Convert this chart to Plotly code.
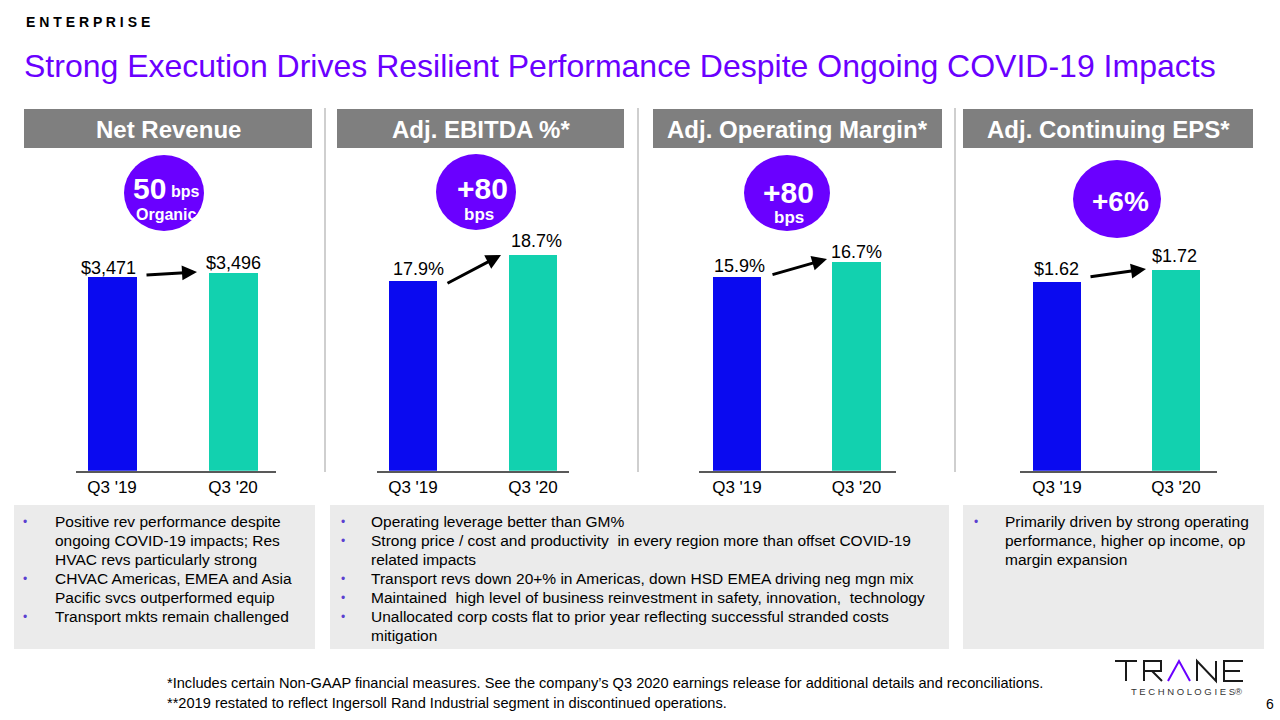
import plotly.graph_objects as go

W, H = 1280, 720
PURPLE = "#6A00FF"
BLUE = "#0A0AF0"
TEAL = "#12D1AF"
GRAY_HDR = "#7F7F7F"
BOX = "#EBEBEB"
FONT = "Liberation Sans, Arial, sans-serif"

# ---------------- data ----------------
categories = ["Q3 '19", "Q3 '20"]
net_revenue = [3471, 3496]
adj_ebitda_pct = [17.9, 18.7]
adj_op_margin_pct = [15.9, 16.7]
adj_eps = [1.62, 1.72]
net_revenue_labels = ["$3,471", "$3,496"]
adj_ebitda_labels = ["17.9%", "18.7%"]
adj_op_margin_labels = ["15.9%", "16.7%"]
adj_eps_labels = ["$1.62", "$1.72"]
panel_titles = ["Net Revenue", "Adj. EBITDA %*", "Adj. Operating Margin*", "Adj. Continuing EPS*"]

bullets_box1 = [
    (True, "Positive rev performance despite"),
    (False, "ongoing COVID-19 impacts; Res"),
    (False, "HVAC revs particularly strong"),
    (True, "CHVAC Americas, EMEA and Asia"),
    (False, "Pacific svcs outperformed equip"),
    (True, "Transport mkts remain challenged"),
]
bullets_box2 = [
    (True, "Operating leverage better than GM%"),
    (True, "Strong price / cost and productivity  in every region more than offset COVID-19"),
    (False, "related impacts"),
    (True, "Transport revs down 20+% in Americas, down HSD EMEA driving neg mgn mix"),
    (True, "Maintained  high level of business reinvestment in safety, innovation,  technology"),
    (True, "Unallocated corp costs flat to prior year reflecting successful stranded costs"),
    (False, "mitigation"),
]
bullets_box3 = [
    (True, "Primarily driven by strong operating"),
    (False, "performance, higher op income, op"),
    (False, "margin expansion"),
]
footnotes = [
    "*Includes certain Non-GAAP financial measures. See the company\u2019s Q3 2020 earnings release for additional details and reconciliations.",
    "**2019 restated to reflect Ingersoll Rand Industrial segment in discontinued operations.",
]


def px(x):
    return x / W


def py(y):
    return 1 - y / H


# ---------------- layout config ----------------
BASE_Y, TOP_Y = 470.7, 150
panels = [
    dict(vals=net_revenue, labels=net_revenue_labels, ax=(76, 276), xr=(-0.2975, 1.355), yr=(2262, 4266),
         width=0.405, shifts=[(-4, 9), (0, 10)], arrow=((145, 275), (197, 272)),
         header=(24, 312), circle=(164, 193, 40, 38)),
    dict(vals=adj_ebitda_pct, labels=adj_ebitda_labels, ax=(377, 569), xr=(-0.3, 1.3), yr=(11.98, 21.97),
         width=0.4, shifts=[(5, 12), (3, 14)], arrow=((446, 284), (501, 255)),
         header=(337, 624), circle=(476, 192, 40, 38)),
    dict(vals=adj_op_margin_pct, labels=adj_op_margin_labels, ax=(699, 896), xr=(-0.318, 1.331), yr=(5.57, 22.67),
         width=0.405, shifts=[(3, 11), (0, 10)], arrow=((771, 275), (827, 259)),
         header=(653, 942), circle=(787, 193, 43, 38)),
    dict(vals=adj_eps, labels=adj_eps_labels, ax=(1020, 1217), xr=(-0.311, 1.345), yr=(0.005, 2.746),
         width=0.405, shifts=[(-1, 13), (-1, 14)], arrow=((1089, 277), (1146, 269)),
         header=(963, 1253), circle=(1117, 199, 44, 39)),
]

fig = go.Figure()
shapes = []
annotations = []
layout_axes = {}

for i, p in enumerate(panels):
    n = "" if i == 0 else str(i + 1)
    xa, ya = "x" + n, "y" + n
    fig.add_trace(go.Bar(
        x=categories, y=p["vals"], width=p["width"],
        marker=dict(color=[BLUE, TEAL], line=dict(width=0)),
        xaxis=xa, yaxis=ya, hoverinfo="skip",
    ))
    layout_axes["xaxis" + n] = dict(
        domain=[px(p["ax"][0]), px(p["ax"][1])], range=list(p["xr"]), anchor=ya,
        showline=True, linecolor="#595959", linewidth=2, ticks="", showgrid=False,
        tickfont=dict(family=FONT, size=17, color="#000000"), fixedrange=True,
    )
    layout_axes["yaxis" + n] = dict(
        domain=[py(BASE_Y), py(TOP_Y)], range=list(p["yr"]), anchor=xa,
        visible=False, showgrid=False, fixedrange=True,
    )
    # value labels
    for cat, v, lab, (dx, dy) in zip(categories, p["vals"], p["labels"], p["shifts"]):
        annotations.append(dict(
            x=cat, y=v, xref=xa, yref=ya, text=lab, showarrow=False,
            xanchor="center", yanchor="middle", xshift=dx, yshift=dy,
            font=dict(family=FONT, size=18, color="#000000"),
        ))
    # arrow
    (tx, ty), (hx, hy) = p["arrow"]
    annotations.append(dict(
        x=px(hx), y=py(hy), xref="paper", yref="paper", ax=tx - hx, ay=ty - hy,
        axref="pixel", ayref="pixel", text="", showarrow=True,
        arrowhead=2, arrowsize=1, arrowwidth=3, arrowcolor="#000000", standoff=0,
    ))
    # header box
    hx0, hx1 = p["header"]
    shapes.append(dict(type="rect", xref="paper", yref="paper", x0=px(hx0), x1=px(hx1),
                       y0=py(148), y1=py(109), fillcolor=GRAY_HDR, line=dict(width=0), layer="below"))
    annotations.append(dict(
        x=px((hx0 + hx1) / 2), y=py(129), xref="paper", yref="paper", text="<b>%s</b>" % panel_titles[i],
        showarrow=False, xanchor="center", yanchor="middle",
        font=dict(family=FONT, size=24, color="#FFFFFF"),
    ))
    # circle badge
    cx, cy, rx, ry = p["circle"]
    shapes.append(dict(type="circle", xref="paper", yref="paper", x0=px(cx - rx), x1=px(cx + rx),
                       y0=py(cy + ry), y1=py(cy - ry), fillcolor=PURPLE, line=dict(width=0), layer="below"))


def txt(x, y, s, size, color="#000000", anchor="left", bold=False, family=FONT):
    annotations.append(dict(
        x=px(x), y=py(y), xref="paper", yref="paper", text=("<b>%s</b>" % s) if bold else s,
        showarrow=False, xanchor=anchor, yanchor="middle",
        font=dict(family=family, size=size, color=color),
    ))


# badge texts
txt(149, 189, "50", 30, "#FFFFFF", "center", True)
txt(185, 192, "bps", 16, "#FFFFFF", "center", True)
txt(166, 214, "Organic", 16, "#FFFFFF", "center", True)
txt(482, 189, "+80", 30, "#FFFFFF", "center", True)
txt(479, 214, "bps", 17, "#FFFFFF", "center", True)
txt(788, 193, "+80", 30, "#FFFFFF", "center", True)
txt(789, 217, "bps", 17, "#FFFFFF", "center", True)
txt(1120, 201, "+6%", 28, "#FFFFFF", "center", True)

# separators
for sx in (325, 638, 955):
    shapes.append(dict(type="line", xref="paper", yref="paper", x0=px(sx), x1=px(sx),
                       y0=py(472), y1=py(108), line=dict(color="#CFCFCF", width=2), layer="below"))

# text boxes
for bx0, bx1 in ((14, 315), (330, 949), (963, 1264)):
    shapes.append(dict(type="rect", xref="paper", yref="paper", x0=px(bx0), x1=px(bx1),
                       y0=py(649), y1=py(505), fillcolor=BOX, line=dict(width=0), layer="below"))

for bullets, bxl, tx0 in ((bullets_box1, 25, 53), (bullets_box2, 343, 369), (bullets_box3, 976, 1003)):
    for j, (has_bullet, line) in enumerate(bullets):
        yy = 521.5 + j * 19.05
        if has_bullet:
            txt(bxl, yy, "\u2022", 12, "#5B3FD0", "center")
        txt(tx0, yy, line, 15.5, "#000000", "left")

# title
txt(24, 22, "E N T E R P R I S E", 14, "#000000", "left", True)
txt(22, 66, "Strong Execution Drives Resilient Performance Despite Ongoing COVID-19 Impacts", 32, PURPLE, "left")

# footnotes
txt(165, 683, footnotes[0], 14.6, "#000000", "left")
txt(165, 703, footnotes[1], 14.6, "#000000", "left")
txt(1270, 704, "6", 14, "#000000", "center")

# logo (drawn with strokes)
LOGO = "#1A1A1A"
logo_paths = [
    "M1115,661 L1137,661 M1126,661 L1126,681",
    "M1144,681 L1144,661 L1161,661 L1161,671 L1144,671 M1152,671 L1162,681",
    "M1168,681 L1179,661 L1190,681",
    "M1197,681 L1197,661 L1216,681 L1216,661",
    "M1243,661 L1224,661 L1224,681 L1243,681 M1224,671 L1240,671",
]


def to_paper_path(d):
    out = []
    for tok in d.split():
        cmd = tok[0]
        xs, ys = tok[1:].split(",")
        out.append("%s%.6f,%.6f" % (cmd, px(float(xs)), py(float(ys))))
    return " ".join(out)


for k, d in enumerate(logo_paths):
    shapes.append(dict(type="path", xref="paper", yref="paper", path=to_paper_path(d),
                       line=dict(color=PURPLE if k == 2 else LOGO, width=2)))
txt(1186, 691, "T E C H N O L O G I E S\u00ae", 9.5, "#333333", "center")

fig.update_layout(
    width=W, height=H, margin=dict(l=0, r=0, t=0, b=0),
    paper_bgcolor="#FFFFFF", plot_bgcolor="rgba(0,0,0,0)", showlegend=False,
    bargap=0, shapes=shapes, annotations=annotations, **layout_axes,
)

fig.write_html("out.html")
